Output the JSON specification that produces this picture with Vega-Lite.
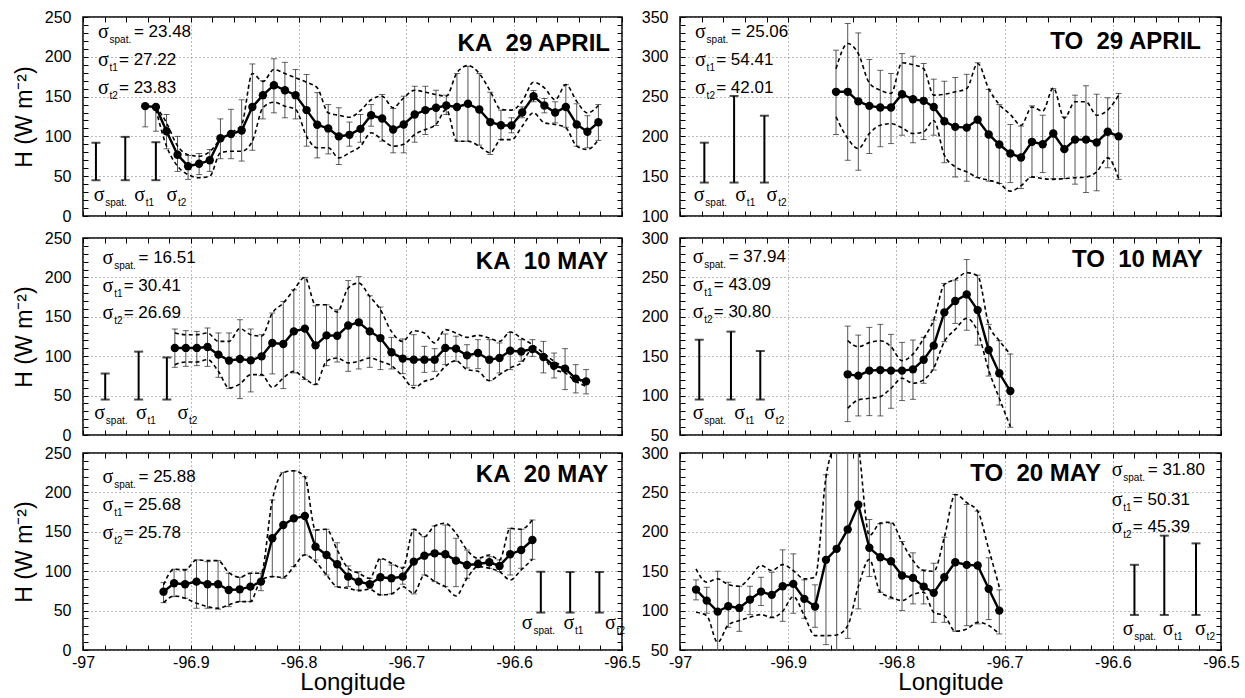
{
"$schema": "https://vega.github.io/schema/vega-lite/v6.json",
"padding": {"left": 12, "top": 8, "right": 5, "bottom": 1},
"background": "white",
"config": {
 "font": "Liberation Sans",
 "view": {"stroke": "#000", "strokeWidth": 1.5},
 "axis": {"domain": false, "tickColor": "#000", "tickSize": -5, "tickWidth": 1, "labelFont": "Liberation Sans", "labelFontSize": 16, "labelColor": "#000", "labelOverlap": false, "labelFlush": false, "gridColor": "#777", "gridDash": [1, 3], "gridWidth": 1, "titleFont": "Liberation Sans", "titleFontSize": 23, "titleFontWeight": "normal", "titleColor": "#000"},
 "text": {"font": "Liberation Sans", "color": "#000"}
},
"datasets": {
 "pts": [
{"p":1,"x":-96.9423,"h":138,"lo":112,"hi":139.6,"ul":null,"ll":null},
{"p":1,"x":-96.9324,"h":137,"lo":106.5,"hi":138,"ul":138,"ll":134},
{"p":1,"x":-96.9225,"h":106.5,"lo":84.4,"hi":127.5,"ul":117,"ll":87.7},
{"p":1,"x":-96.9123,"h":77,"lo":56,"hi":100,"ul":88,"ll":62.6},
{"p":1,"x":-96.9025,"h":62.6,"lo":46,"hi":76,"ul":77,"ll":52},
{"p":1,"x":-96.8923,"h":65.6,"lo":52,"hi":78.5,"ul":75,"ll":48},
{"p":1,"x":-96.8824,"h":70,"lo":56,"hi":83.5,"ul":81,"ll":50},
{"p":1,"x":-96.8725,"h":97.7,"lo":72,"hi":122,"ul":96,"ll":79.4},
{"p":1,"x":-96.8627,"h":103,"lo":72,"hi":134,"ul":104.5,"ll":81.4},
{"p":1,"x":-96.8528,"h":107.4,"lo":69,"hi":146,"ul":115,"ll":81.4},
{"p":1,"x":-96.8429,"h":137,"lo":82.6,"hi":191,"ul":179,"ll":94},
{"p":1,"x":-96.8331,"h":151.8,"lo":122,"hi":170,"ul":169,"ll":136},
{"p":1,"x":-96.8229,"h":164.3,"lo":129.6,"hi":197.5,"ul":184,"ll":143},
{"p":1,"x":-96.8127,"h":158,"lo":123.4,"hi":193,"ul":179,"ll":138},
{"p":1,"x":-96.8028,"h":151.8,"lo":122,"hi":184,"ul":173.6,"ll":134},
{"p":1,"x":-96.7926,"h":133,"lo":87.7,"hi":177.8,"ul":168,"ll":100},
{"p":1,"x":-96.7827,"h":114.6,"lo":73,"hi":155,"ul":161,"ll":85.7},
{"p":1,"x":-96.7725,"h":110,"lo":78,"hi":140,"ul":129.6,"ll":85.7},
{"p":1,"x":-96.7627,"h":100,"lo":64.7,"hi":136,"ul":126.6,"ll":73},
{"p":1,"x":-96.7528,"h":102,"lo":87.7,"hi":118,"ul":124,"ll":79.4},
{"p":1,"x":-96.7426,"h":109.5,"lo":92.7,"hi":127.5,"ul":132.5,"ll":87.7},
{"p":1,"x":-96.7327,"h":126.6,"lo":112.8,"hi":140,"ul":146,"ll":104.5},
{"p":1,"x":-96.7225,"h":122.5,"lo":94,"hi":152.6,"ul":150.5,"ll":96},
{"p":1,"x":-96.7123,"h":108.7,"lo":79.4,"hi":135,"ul":136,"ll":87.7},
{"p":1,"x":-96.7025,"h":115,"lo":79.4,"hi":150.5,"ul":148.5,"ll":90},
{"p":1,"x":-96.6923,"h":127.5,"lo":92.7,"hi":163,"ul":158,"ll":102.4},
{"p":1,"x":-96.6824,"h":133,"lo":102.4,"hi":163,"ul":155.5,"ll":108.7},
{"p":1,"x":-96.6725,"h":136,"lo":113.7,"hi":158,"ul":152.6,"ll":115},
{"p":1,"x":-96.663,"h":138.8,"lo":127.5,"hi":151.8,"ul":150.5,"ll":134},
{"p":1,"x":-96.6531,"h":137,"lo":94,"hi":179,"ul":180,"ll":94},
{"p":1,"x":-96.6429,"h":141,"lo":94,"hi":188,"ul":189,"ll":94},
{"p":1,"x":-96.6324,"h":133.8,"lo":89,"hi":179,"ul":179,"ll":87.7},
{"p":1,"x":-96.6222,"h":118,"lo":77.3,"hi":155.5,"ul":156.8,"ll":79.4},
{"p":1,"x":-96.6123,"h":114,"lo":96,"hi":133,"ul":133.8,"ll":96},
{"p":1,"x":-96.6025,"h":113.7,"lo":104.5,"hi":123.4,"ul":133,"ll":96},
{"p":1,"x":-96.5926,"h":130,"lo":123.4,"hi":137,"ul":144,"ll":112.8},
{"p":1,"x":-96.5821,"h":150.5,"lo":143.5,"hi":157.6,"ul":168,"ll":129.6},
{"p":1,"x":-96.572,"h":138.8,"lo":129.6,"hi":147.6,"ul":161,"ll":117},
{"p":1,"x":-96.562,"h":130,"lo":117,"hi":143.5,"ul":146,"ll":115},
{"p":1,"x":-96.5521,"h":137,"lo":111.5,"hi":165,"ul":165,"ll":110.8},
{"p":1,"x":-96.542,"h":115,"lo":87.7,"hi":141,"ul":144,"ll":87.7},
{"p":1,"x":-96.5321,"h":105.8,"lo":85.7,"hi":126,"ul":129.6,"ll":83.5},
{"p":1,"x":-96.5219,"h":117.8,"lo":95,"hi":140,"ul":138.8,"ll":96},
{"p":2,"x":-96.8558,"h":256,"lo":202.4,"hi":308.3,"ul":285,"ll":224.6},
{"p":2,"x":-96.845,"h":256,"lo":170,"hi":341.8,"ul":316.7,"ll":197.4},
{"p":2,"x":-96.8352,"h":244,"lo":157.5,"hi":330,"ul":304,"ll":184.8},
{"p":2,"x":-96.825,"h":238.4,"lo":178.5,"hi":296.6,"ul":267,"ll":203.6},
{"p":2,"x":-96.8149,"h":236.3,"lo":187,"hi":283,"ul":258,"ll":214},
{"p":2,"x":-96.805,"h":236.3,"lo":191,"hi":279,"ul":254,"ll":216},
{"p":2,"x":-96.7948,"h":253,"lo":201.5,"hi":304,"ul":292.5,"ll":210.8},
{"p":2,"x":-96.7847,"h":246.7,"lo":192,"hi":300.7,"ul":290,"ll":203.6},
{"p":2,"x":-96.7748,"h":244.7,"lo":196,"hi":291.6,"ul":285,"ll":205.8},
{"p":2,"x":-96.7655,"h":237,"lo":201.5,"hi":271.9,"ul":251.8,"ll":220},
{"p":2,"x":-96.7557,"h":219,"lo":167,"hi":269.3,"ul":253,"ll":176.4},
{"p":2,"x":-96.7456,"h":212,"lo":149,"hi":274,"ul":256,"ll":161.8},
{"p":2,"x":-96.735,"h":211,"lo":143.7,"hi":278,"ul":260,"ll":155.5},
{"p":2,"x":-96.7249,"h":221,"lo":148.4,"hi":292.5,"ul":291.6,"ll":148.4},
{"p":2,"x":-96.7147,"h":202.4,"lo":143.7,"hi":259,"ul":260,"ll":145},
{"p":2,"x":-96.7049,"h":189.8,"lo":140.8,"hi":240,"ul":240,"ll":140.8},
{"p":2,"x":-96.6947,"h":178.5,"lo":142,"hi":215,"ul":227.5,"ll":131.2},
{"p":2,"x":-96.6848,"h":173.5,"lo":134.5,"hi":213,"ul":214,"ll":138},
{"p":2,"x":-96.6747,"h":193.2,"lo":148.4,"hi":238.4,"ul":237,"ll":149.2},
{"p":2,"x":-96.6648,"h":190.2,"lo":154.6,"hi":226.6,"ul":231.7,"ll":147},
{"p":2,"x":-96.655,"h":203.6,"lo":147,"hi":260,"ul":261,"ll":146},
{"p":2,"x":-96.6448,"h":184,"lo":147,"hi":224.6,"ul":223,"ll":147},
{"p":2,"x":-96.6349,"h":196,"lo":140,"hi":251.8,"ul":243.5,"ll":148},
{"p":2,"x":-96.6248,"h":196,"lo":129.5,"hi":263.6,"ul":243.5,"ll":149},
{"p":2,"x":-96.6149,"h":192.3,"lo":131.7,"hi":253,"ul":226.6,"ll":155.5},
{"p":2,"x":-96.6047,"h":205.8,"lo":160.6,"hi":248.5,"ul":233,"ll":173},
{"p":2,"x":-96.5946,"h":200,"lo":146,"hi":254,"ul":251.8,"ll":147},
{"p":3,"x":-96.9148,"h":110.5,"lo":85.9,"hi":134.5,"ul":129.5,"ll":89.3},
{"p":3,"x":-96.9046,"h":110.5,"lo":87.1,"hi":132.4,"ul":127.3,"ll":92.7},
{"p":3,"x":-96.8944,"h":110.5,"lo":88,"hi":131.5,"ul":127.3,"ll":92.7},
{"p":3,"x":-96.8845,"h":111.7,"lo":87.1,"hi":135.8,"ul":129.5,"ll":95.6},
{"p":3,"x":-96.8744,"h":102,"lo":73.2,"hi":129.5,"ul":118.8,"ll":80.8},
{"p":3,"x":-96.8645,"h":94.4,"lo":58.9,"hi":129.5,"ul":118.8,"ll":59.8},
{"p":3,"x":-96.8544,"h":96.5,"lo":46.2,"hi":146.3,"ul":135,"ll":64.8},
{"p":3,"x":-96.8444,"h":94.7,"lo":54.7,"hi":134.5,"ul":127.3,"ll":76.6},
{"p":3,"x":-96.8343,"h":99.8,"lo":75.3,"hi":127.3,"ul":125.4,"ll":76.6},
{"p":3,"x":-96.8244,"h":116.8,"lo":77.5,"hi":154.8,"ul":154.8,"ll":60.5},
{"p":3,"x":-96.8142,"h":115.5,"lo":58.9,"hi":169.5,"ul":167.5,"ll":72.4},
{"p":3,"x":-96.8044,"h":131.5,"lo":78.8,"hi":184.3,"ul":184.3,"ll":80.8},
{"p":3,"x":-96.7942,"h":135,"lo":70.3,"hi":200,"ul":200,"ll":71.5},
{"p":3,"x":-96.7843,"h":113.8,"lo":64,"hi":164,"ul":165.3,"ll":64},
{"p":3,"x":-96.7741,"h":126.4,"lo":88,"hi":165.3,"ul":165.3,"ll":93.5},
{"p":3,"x":-96.7642,"h":126,"lo":92.7,"hi":159,"ul":156,"ll":97.8},
{"p":3,"x":-96.754,"h":139,"lo":80.8,"hi":196,"ul":186.5,"ll":91.5},
{"p":3,"x":-96.7442,"h":143,"lo":83.8,"hi":201,"ul":192.8,"ll":93.5},
{"p":3,"x":-96.734,"h":131.5,"lo":85.9,"hi":176.7,"ul":175.8,"ll":97.8},
{"p":3,"x":-96.7241,"h":123,"lo":83,"hi":162.4,"ul":159,"ll":93.5},
{"p":3,"x":-96.7139,"h":105,"lo":83.8,"hi":123.9,"ul":131.5,"ll":88},
{"p":3,"x":-96.7034,"h":97,"lo":77.9,"hi":121.9,"ul":118.8,"ll":74.5},
{"p":3,"x":-96.6932,"h":95.6,"lo":63,"hi":127.3,"ul":132.4,"ll":59.8},
{"p":3,"x":-96.6833,"h":95.6,"lo":79.5,"hi":112.5,"ul":129.5,"ll":68.1},
{"p":3,"x":-96.6738,"h":95.6,"lo":80.8,"hi":109.6,"ul":116.8,"ll":72.4},
{"p":3,"x":-96.6639,"h":110.5,"lo":89.3,"hi":128.2,"ul":133.7,"ll":87.1},
{"p":3,"x":-96.654,"h":109.6,"lo":93.5,"hi":125.4,"ul":129.5,"ll":94.4},
{"p":3,"x":-96.6438,"h":101,"lo":85.1,"hi":114.6,"ul":123.9,"ll":83},
{"p":3,"x":-96.6336,"h":104,"lo":84.2,"hi":121,"ul":126.4,"ll":80.8},
{"p":3,"x":-96.6231,"h":95.6,"lo":69,"hi":121,"ul":123.1,"ll":69},
{"p":3,"x":-96.6136,"h":97.8,"lo":78.8,"hi":116.8,"ul":118.8,"ll":76.6},
{"p":3,"x":-96.6037,"h":107,"lo":83,"hi":130.2,"ul":130.7,"ll":85.1},
{"p":3,"x":-96.5935,"h":106,"lo":93.5,"hi":121,"ul":123.1,"ll":91.5},
{"p":3,"x":-96.5831,"h":109,"lo":99.8,"hi":121,"ul":114.6,"ll":108.3},
{"p":3,"x":-96.5729,"h":99,"lo":78.8,"hi":118.8,"ul":104,"ll":97.8},
{"p":3,"x":-96.563,"h":88,"lo":72.4,"hi":104,"ul":93.5,"ll":83},
{"p":3,"x":-96.5528,"h":84.2,"lo":57.6,"hi":109.6,"ul":85.1,"ll":78.8},
{"p":3,"x":-96.5429,"h":71.5,"lo":53.4,"hi":89.3,"ul":72.4,"ll":68.1},
{"p":3,"x":-96.5333,"h":68,"lo":52.2,"hi":83,"ul":66,"ll":61.8},
{"p":4,"x":-96.845,"h":127,"lo":67,"hi":188.2,"ul":169.7,"ll":84},
{"p":4,"x":-96.8352,"h":125.3,"lo":74.2,"hi":176.8,"ul":162,"ll":94.4},
{"p":4,"x":-96.825,"h":131.7,"lo":74.6,"hi":186.6,"ul":167.2,"ll":96.6},
{"p":4,"x":-96.8149,"h":132.4,"lo":74.2,"hi":190.4,"ul":169.7,"ll":98.7},
{"p":4,"x":-96.805,"h":131.7,"lo":83.9,"hi":177.7,"ul":162,"ll":109.3},
{"p":4,"x":-96.7948,"h":131.7,"lo":93.7,"hi":167.5,"ul":144.4,"ll":122},
{"p":4,"x":-96.7847,"h":133.3,"lo":95.3,"hi":170.5,"ul":152.7,"ll":115.6},
{"p":4,"x":-96.7748,"h":145.5,"lo":115.6,"hi":174,"ul":172.6,"ll":120},
{"p":4,"x":-96.7655,"h":163.4,"lo":132.4,"hi":195.8,"ul":196,"ll":135},
{"p":4,"x":-96.7557,"h":205.6,"lo":168.4,"hi":242.3,"ul":241,"ll":168.4},
{"p":4,"x":-96.7456,"h":220,"lo":191.6,"hi":246.5,"ul":247.4,"ll":184},
{"p":4,"x":-96.735,"h":228.4,"lo":183,"hi":272.7,"ul":256,"ll":198},
{"p":4,"x":-96.7249,"h":208.5,"lo":164,"hi":252.9,"ul":252,"ll":181},
{"p":4,"x":-96.7147,"h":157.8,"lo":124.8,"hi":190.4,"ul":190.4,"ll":132.4},
{"p":4,"x":-96.7049,"h":128.3,"lo":88,"hi":169.7,"ul":169.7,"ll":96.6},
{"p":4,"x":-96.6947,"h":105.8,"lo":59.8,"hi":152.7,"ul":152.7,"ll":60.7},
{"p":5,"x":-96.9253,"h":74,"lo":60.1,"hi":85.5,"ul":82.6,"ll":60.1},
{"p":5,"x":-96.9155,"h":84.7,"lo":67.7,"hi":102.5,"ul":102.5,"ll":68.6},
{"p":5,"x":-96.9053,"h":83.5,"lo":65.7,"hi":102.5,"ul":101.6,"ll":65.7},
{"p":5,"x":-96.8947,"h":86.8,"lo":53,"hi":114.3,"ul":114.3,"ll":59.4},
{"p":5,"x":-96.8845,"h":83.5,"lo":53,"hi":112.1,"ul":113.4,"ll":55},
{"p":5,"x":-96.8747,"h":83.5,"lo":51.8,"hi":113.4,"ul":113.4,"ll":53},
{"p":5,"x":-96.8648,"h":76.2,"lo":55,"hi":97.4,"ul":98.2,"ll":57.2},
{"p":5,"x":-96.8546,"h":77,"lo":61.4,"hi":92.3,"ul":92.3,"ll":61.4},
{"p":5,"x":-96.8447,"h":80.4,"lo":61.4,"hi":97.4,"ul":97.4,"ll":61.4},
{"p":5,"x":-96.8349,"h":86.8,"lo":75.3,"hi":97.4,"ul":97.4,"ll":88.9},
{"p":5,"x":-96.8244,"h":141.8,"lo":93.1,"hi":190.3,"ul":190.3,"ll":93.1},
{"p":5,"x":-96.8142,"h":158.6,"lo":91,"hi":225.4,"ul":225.4,"ll":92.3},
{"p":5,"x":-96.8044,"h":167.1,"lo":105.8,"hi":227.4,"ul":227.4,"ll":105.8},
{"p":5,"x":-96.7942,"h":170,"lo":120.6,"hi":219.8,"ul":219.8,"ll":120.6},
{"p":5,"x":-96.7843,"h":131,"lo":114.3,"hi":152.3,"ul":152.3,"ll":112.1},
{"p":5,"x":-96.7741,"h":120.6,"lo":95.2,"hi":153.2,"ul":153.2,"ll":95.2},
{"p":5,"x":-96.7642,"h":108.8,"lo":80.4,"hi":136.2,"ul":126.9,"ll":80.4},
{"p":5,"x":-96.754,"h":93.1,"lo":80.4,"hi":106.7,"ul":103.7,"ll":78.4},
{"p":5,"x":-96.7442,"h":86.8,"lo":76.2,"hi":99.4,"ul":97.4,"ll":75.3},
{"p":5,"x":-96.734,"h":83.5,"lo":78.4,"hi":91,"ul":91,"ll":77.1},
{"p":5,"x":-96.7241,"h":92.3,"lo":69.9,"hi":115.1,"ul":116.4,"ll":69.9},
{"p":5,"x":-96.7139,"h":91,"lo":71.2,"hi":107.9,"ul":110.1,"ll":71.2},
{"p":5,"x":-96.7034,"h":93.1,"lo":83.5,"hi":105,"ul":103.7,"ll":80.4},
{"p":5,"x":-96.6932,"h":112.1,"lo":71.2,"hi":153.2,"ul":153.2,"ll":72},
{"p":5,"x":-96.6833,"h":119.7,"lo":95.2,"hi":143.8,"ul":143.8,"ll":95.2},
{"p":5,"x":-96.6738,"h":122.7,"lo":86.8,"hi":157.4,"ul":157.4,"ll":86.8},
{"p":5,"x":-96.6639,"h":121.5,"lo":80.4,"hi":158.6,"ul":160.8,"ll":80.4},
{"p":5,"x":-96.654,"h":113.4,"lo":80.4,"hi":141.8,"ul":148.1,"ll":68.6},
{"p":5,"x":-96.6438,"h":107.9,"lo":91,"hi":126.9,"ul":126.9,"ll":91},
{"p":5,"x":-96.6336,"h":109.2,"lo":105.8,"hi":114.3,"ul":116.4,"ll":105.8},
{"p":5,"x":-96.6231,"h":111.3,"lo":103.7,"hi":118.4,"ul":120.6,"ll":103.7},
{"p":5,"x":-96.6136,"h":106.7,"lo":99.4,"hi":114.3,"ul":114.3,"ll":99.4},
{"p":5,"x":-96.6037,"h":121.5,"lo":95.2,"hi":154.4,"ul":154.4,"ll":88.9},
{"p":5,"x":-96.5935,"h":126.9,"lo":103.7,"hi":153.2,"ul":153.2,"ll":101.6},
{"p":5,"x":-96.5831,"h":139.6,"lo":115.1,"hi":165,"ul":165,"ll":115.1},
{"p":6,"x":-96.9852,"h":126.7,"lo":113.6,"hi":139,"ul":153,"ll":97.8},
{"p":6,"x":-96.9753,"h":112.7,"lo":96.6,"hi":129.6,"ul":136,"ll":93.6},
{"p":6,"x":-96.9652,"h":98.7,"lo":49.2,"hi":150,"ul":140.3,"ll":59.7},
{"p":6,"x":-96.9554,"h":105.5,"lo":78.8,"hi":136,"ul":133,"ll":81.8},
{"p":6,"x":-96.9452,"h":103.4,"lo":73.7,"hi":130.9,"ul":130.9,"ll":87.3},
{"p":6,"x":-96.9353,"h":114,"lo":94.9,"hi":130.9,"ul":142.3,"ll":91.5},
{"p":6,"x":-96.9251,"h":124.1,"lo":106.4,"hi":142.3,"ul":157.2,"ll":94.9},
{"p":6,"x":-96.9152,"h":120,"lo":90.7,"hi":148.7,"ul":150.8,"ll":91.5},
{"p":6,"x":-96.9051,"h":130.9,"lo":86.4,"hi":177.1,"ul":158.4,"ll":99.1},
{"p":6,"x":-96.8953,"h":133.9,"lo":96.6,"hi":172,"ul":150.8,"ll":117.8},
{"p":6,"x":-96.8851,"h":114.9,"lo":90.2,"hi":139,"ul":140.3,"ll":93.6},
{"p":6,"x":-96.8752,"h":105.1,"lo":78.8,"hi":132.7,"ul":142.3,"ll":68.2},
{"p":6,"x":-96.8651,"h":164.4,"lo":56.8,"hi":272.4,"ul":269.4,"ll":68.2},
{"p":6,"x":-96.8552,"h":178.4,"lo":30,"hi":330,"ul":320,"ll":69.1},
{"p":6,"x":-96.845,"h":203,"lo":64.8,"hi":340,"ul":360,"ll":80.9},
{"p":6,"x":-96.8352,"h":234.3,"lo":102.2,"hi":370,"ul":310,"ll":130.5},
{"p":6,"x":-96.825,"h":179.7,"lo":143.2,"hi":215.6,"ul":195.3,"ll":165},
{"p":6,"x":-96.8149,"h":167.7,"lo":123.3,"hi":210.2,"ul":211,"ll":123.3},
{"p":6,"x":-96.805,"h":162.6,"lo":114.9,"hi":211,"ul":212.2,"ll":116.9},
{"p":6,"x":-96.7948,"h":144.5,"lo":100,"hi":187.7,"ul":186.8,"ll":112.7},
{"p":6,"x":-96.7847,"h":141.5,"lo":108.5,"hi":173.3,"ul":163.5,"ll":120.3},
{"p":6,"x":-96.7748,"h":130.5,"lo":108.5,"hi":151.7,"ul":150.8,"ll":123.3},
{"p":6,"x":-96.7655,"h":122.5,"lo":85.1,"hi":160.1,"ul":150,"ll":97.8},
{"p":6,"x":-96.7557,"h":142.3,"lo":85.1,"hi":193.1,"ul":193.1,"ll":93.6},
{"p":6,"x":-96.7456,"h":161.4,"lo":73.7,"hi":247.4,"ul":247.4,"ll":73.7},
{"p":6,"x":-96.735,"h":158,"lo":80.9,"hi":234.7,"ul":237,"ll":76.7},
{"p":6,"x":-96.7249,"h":157.2,"lo":83.1,"hi":226.2,"ul":226.2,"ll":85.1},
{"p":6,"x":-96.7147,"h":127.6,"lo":88.6,"hi":167,"ul":178,"ll":81},
{"p":6,"x":-96.7049,"h":100,"lo":70.4,"hi":126.3,"ul":130,"ll":70.4}
 ],
 "sig": [
{"p":1,"x":-96.988,"lo":45,"hi":92},{"p":1,"x":-96.9608,"lo":45,"hi":99.4},{"p":1,"x":-96.9324,"lo":45,"hi":92.7},
{"p":2,"x":-96.9775,"lo":142,"hi":192.1},{"p":2,"x":-96.95,"lo":142,"hi":250.8},{"p":2,"x":-96.922,"lo":142,"hi":226},
{"p":3,"x":-96.9794,"lo":45,"hi":78},{"p":3,"x":-96.9484,"lo":45,"hi":105.8},{"p":3,"x":-96.9222,"lo":45,"hi":98.4},
{"p":4,"x":-96.9822,"lo":95,"hi":170.9},{"p":4,"x":-96.9529,"lo":95,"hi":181.2},{"p":4,"x":-96.9258,"lo":95,"hi":156.6},
{"p":5,"x":-96.5753,"lo":47.5,"hi":99.3},{"p":5,"x":-96.5481,"lo":47.5,"hi":98.9},{"p":5,"x":-96.521,"lo":47.5,"hi":99},
{"p":6,"x":-96.58,"lo":94.5,"hi":158.1},{"p":6,"x":-96.5524,"lo":94.5,"hi":195.1},{"p":6,"x":-96.5231,"lo":94.5,"hi":185.3}
 ],
 "ann": [
{"p":1,"k":"sym","x":-96.9861,"y":231,"t":"σ"},{"p":1,"k":"sub","x":-96.9754,"y":231,"t":"spat."},{"p":1,"k":"val","x":-96.9528,"y":231,"t":"= 23.48"},
{"p":1,"k":"sym","x":-96.9861,"y":196.6,"t":"σ"},{"p":1,"k":"sub","x":-96.9754,"y":196.6,"t":"t1"},{"p":1,"k":"val","x":-96.9666,"y":196.6,"t":"= 27.22"},
{"p":1,"k":"sym","x":-96.9861,"y":161,"t":"σ"},{"p":1,"k":"sub","x":-96.9754,"y":161,"t":"t2"},{"p":1,"k":"val","x":-96.9666,"y":161,"t":"= 23.83"},
{"p":1,"k":"sym","x":-96.9901,"y":27,"t":"σ"},{"p":1,"k":"sub","x":-96.9794,"y":27,"t":"spat."},
{"p":1,"k":"sym","x":-96.9525,"y":27,"t":"σ"},{"p":1,"k":"sub","x":-96.9418,"y":27,"t":"t1"},
{"p":1,"k":"sym","x":-96.9225,"y":27,"t":"σ"},{"p":1,"k":"sub","x":-96.9118,"y":27,"t":"t2"},
{"p":1,"k":"title","x":-96.5111,"y":215.5,"t":"KA\u00a0 29 APRIL"},
{"p":2,"k":"sym","x":-96.9861,"y":331.4,"t":"σ"},{"p":2,"k":"sub","x":-96.9754,"y":331.4,"t":"spat."},{"p":2,"k":"val","x":-96.9528,"y":331.4,"t":"= 25.06"},
{"p":2,"k":"sym","x":-96.9861,"y":295.7,"t":"σ"},{"p":2,"k":"sub","x":-96.9754,"y":295.7,"t":"t1"},{"p":2,"k":"val","x":-96.9666,"y":295.7,"t":"= 54.41"},
{"p":2,"k":"sym","x":-96.9861,"y":261,"t":"σ"},{"p":2,"k":"sub","x":-96.9754,"y":261,"t":"t2"},{"p":2,"k":"val","x":-96.9666,"y":261,"t":"= 42.01"},
{"p":2,"k":"sym","x":-96.9873,"y":126,"t":"σ"},{"p":2,"k":"sub","x":-96.9766,"y":126,"t":"spat."},
{"p":2,"k":"sym","x":-96.9489,"y":126,"t":"σ"},{"p":2,"k":"sub","x":-96.9382,"y":126,"t":"t1"},
{"p":2,"k":"sym","x":-96.92,"y":126,"t":"σ"},{"p":2,"k":"sub","x":-96.9093,"y":126,"t":"t2"},
{"p":2,"k":"title","x":-96.5185,"y":318.8,"t":"TO\u00a0 29 APRIL"},
{"p":3,"k":"sym","x":-96.9818,"y":224.5,"t":"σ"},{"p":3,"k":"sub","x":-96.9711,"y":224.5,"t":"spat."},{"p":3,"k":"val","x":-96.9485,"y":224.5,"t":"= 16.51"},
{"p":3,"k":"sym","x":-96.9818,"y":188.5,"t":"σ"},{"p":3,"k":"sub","x":-96.9711,"y":188.5,"t":"t1"},{"p":3,"k":"val","x":-96.9623,"y":188.5,"t":"= 30.41"},
{"p":3,"k":"sym","x":-96.9818,"y":154.8,"t":"σ"},{"p":3,"k":"sub","x":-96.9711,"y":154.8,"t":"t2"},{"p":3,"k":"val","x":-96.9623,"y":154.8,"t":"= 26.69"},
{"p":3,"k":"sym","x":-96.9895,"y":28,"t":"σ"},{"p":3,"k":"sub","x":-96.9788,"y":28,"t":"spat."},
{"p":3,"k":"sym","x":-96.9509,"y":28,"t":"σ"},{"p":3,"k":"sub","x":-96.9402,"y":28,"t":"t1"},
{"p":3,"k":"sym","x":-96.9123,"y":28,"t":"σ"},{"p":3,"k":"sub","x":-96.9016,"y":28,"t":"t2"},
{"p":3,"k":"title","x":-96.5127,"y":220,"t":"KA\u00a0 10 MAY"},
{"p":4,"k":"sym","x":-96.9883,"y":276.2,"t":"σ"},{"p":4,"k":"sub","x":-96.9776,"y":276.2,"t":"spat."},{"p":4,"k":"val","x":-96.955,"y":276.2,"t":"= 37.94"},
{"p":4,"k":"sym","x":-96.9883,"y":240.2,"t":"σ"},{"p":4,"k":"sub","x":-96.9776,"y":240.2,"t":"t1"},{"p":4,"k":"val","x":-96.9688,"y":240.2,"t":"= 43.09"},
{"p":4,"k":"sym","x":-96.9883,"y":206.5,"t":"σ"},{"p":4,"k":"sub","x":-96.9776,"y":206.5,"t":"t2"},{"p":4,"k":"val","x":-96.9688,"y":206.5,"t":"= 30.80"},
{"p":4,"k":"sym","x":-96.9883,"y":77.6,"t":"σ"},{"p":4,"k":"sub","x":-96.9776,"y":77.6,"t":"spat."},
{"p":4,"k":"sym","x":-96.9498,"y":77.6,"t":"σ"},{"p":4,"k":"sub","x":-96.9391,"y":77.6,"t":"t1"},
{"p":4,"k":"sym","x":-96.9221,"y":77.6,"t":"σ"},{"p":4,"k":"sub","x":-96.9114,"y":77.6,"t":"t2"},
{"p":4,"k":"title","x":-96.5169,"y":271.9,"t":"TO\u00a0 10 MAY"},
{"p":5,"k":"sym","x":-96.9818,"y":219.8,"t":"σ"},{"p":5,"k":"sub","x":-96.9711,"y":219.8,"t":"spat."},{"p":5,"k":"val","x":-96.9485,"y":219.8,"t":"= 25.88"},
{"p":5,"k":"sym","x":-96.9818,"y":184,"t":"σ"},{"p":5,"k":"sub","x":-96.9711,"y":184,"t":"t1"},{"p":5,"k":"val","x":-96.9623,"y":184,"t":"= 25.68"},
{"p":5,"k":"sym","x":-96.9818,"y":148.9,"t":"σ"},{"p":5,"k":"sub","x":-96.9711,"y":148.9,"t":"t2"},{"p":5,"k":"val","x":-96.9623,"y":148.9,"t":"= 25.78"},
{"p":5,"k":"sym","x":-96.5929,"y":34,"t":"σ"},{"p":5,"k":"sub","x":-96.5822,"y":34,"t":"spat."},
{"p":5,"k":"sym","x":-96.5543,"y":34,"t":"σ"},{"p":5,"k":"sub","x":-96.5436,"y":34,"t":"t1"},
{"p":5,"k":"sym","x":-96.5157,"y":34,"t":"σ"},{"p":5,"k":"sub","x":-96.505,"y":34,"t":"t2"},
{"p":5,"k":"title","x":-96.5127,"y":222,"t":"KA\u00a0 20 MAY"},
{"p":6,"k":"sym","x":-96.601,"y":277.9,"t":"σ"},{"p":6,"k":"sub","x":-96.5903,"y":277.9,"t":"spat."},{"p":6,"k":"val","x":-96.5677,"y":277.9,"t":"= 31.80"},
{"p":6,"k":"sym","x":-96.601,"y":240.7,"t":"σ"},{"p":6,"k":"sub","x":-96.5903,"y":240.7,"t":"t1"},{"p":6,"k":"val","x":-96.5815,"y":240.7,"t":"= 50.31"},
{"p":6,"k":"sym","x":-96.601,"y":206.7,"t":"σ"},{"p":6,"k":"sub","x":-96.5903,"y":206.7,"t":"t2"},{"p":6,"k":"val","x":-96.5815,"y":206.7,"t":"= 45.39"},
{"p":6,"k":"sym","x":-96.5909,"y":76.7,"t":"σ"},{"p":6,"k":"sub","x":-96.5802,"y":76.7,"t":"spat."},
{"p":6,"k":"sym","x":-96.5539,"y":76.7,"t":"σ"},{"p":6,"k":"sub","x":-96.5432,"y":76.7,"t":"t1"},
{"p":6,"k":"sym","x":-96.524,"y":76.7,"t":"σ"},{"p":6,"k":"sub","x":-96.5133,"y":76.7,"t":"t2"},
{"p":6,"k":"title","x":-96.6109,"y":273.8,"t":"TO\u00a0 20 MAY"}
 ]
},
"spacing": 4,
"vconcat": [
{"hconcat": [
 {"width": 539, "height": 199, "resolve": {"axis": {"x": "independent", "y": "independent"}}, "layer": [
  {"data":{"name":"pts"},"transform":[{"filter":"datum.p==1"}],"mark":{"type":"rule","color":"#555","strokeWidth":1,"clip":true},
   "encoding":{"x":{"field":"x","type":"quantitative","scale":{"domain":[-97,-96.5],"nice":false,"zero":false},"axis":{"orient":"bottom","values":[-97,-96.98,-96.96,-96.94,-96.92,-96.9,-96.88,-96.86,-96.84,-96.82,-96.8,-96.78,-96.76,-96.74,-96.72,-96.7,-96.68,-96.66,-96.64,-96.62,-96.6,-96.58,-96.56,-96.54,-96.52,-96.5],"grid":true,"gridOpacity":{"condition":{"test":"abs(datum.value*10-round(datum.value*10))<0.001","value":1},"value":0},"labels":false,"title":null}},
   "y":{"field":"lo","type":"quantitative","scale":{"domain":[0,250],"nice":false,"zero":false},"axis":{"orient":"left","values":[0,10,20,30,40,50,60,70,80,90,100,110,120,130,140,150,160,170,180,190,200,210,220,230,240,250],"grid":true,"gridOpacity":{"condition":{"test":"datum.value % 50 == 0","value":1},"value":0},"labelExpr":"datum.value % 50 == 0 ? datum.label : ''","labelPadding":17,"title":"H (W m⁻²)","titlePadding":8}},
   "y2":{"field":"hi"}}},
  {"data":{"name":"pts"},"transform":[{"filter":"datum.p==1"},{"fold":["lo","hi"],"as":["k","v"]}],"mark":{"type":"tick","orient":"horizontal","size":6,"thickness":1,"color":"#222","clip":true},"encoding":{"x":{"field":"x","type":"quantitative","axis":null},"y":{"field":"v","type":"quantitative","axis":null}}},
  {"data":{"name":"pts"},"transform":[{"filter":"datum.p==1"}],"mark":{"type":"line","strokeDash":[4,3],"strokeWidth":1.6,"color":"#000","interpolate":"monotone","clip":true},"encoding":{"x":{"field":"x","type":"quantitative","axis":null},"y":{"field":"ul","type":"quantitative","axis":null}}},
  {"data":{"name":"pts"},"transform":[{"filter":"datum.p==1"}],"mark":{"type":"line","strokeDash":[4,3],"strokeWidth":1.6,"color":"#000","interpolate":"monotone","clip":true},"encoding":{"x":{"field":"x","type":"quantitative","axis":null},"y":{"field":"ll","type":"quantitative","axis":null}}},
  {"data":{"name":"pts"},"transform":[{"filter":"datum.p==1"}],"mark":{"type":"line","strokeWidth":2.4,"color":"#000","clip":true},"encoding":{"x":{"field":"x","type":"quantitative","axis":null},"y":{"field":"h","type":"quantitative","axis":null}}},
  {"data":{"name":"pts"},"transform":[{"filter":"datum.p==1"}],"mark":{"type":"point","filled":true,"size":70,"color":"#000","opacity":1,"clip":true},"encoding":{"x":{"field":"x","type":"quantitative","axis":{"orient":"top","values":[-97,-96.98,-96.96,-96.94,-96.92,-96.9,-96.88,-96.86,-96.84,-96.82,-96.8,-96.78,-96.76,-96.74,-96.72,-96.7,-96.68,-96.66,-96.64,-96.62,-96.6,-96.58,-96.56,-96.54,-96.52,-96.5],"labels":false,"grid":false,"title":null}},"y":{"field":"h","type":"quantitative","axis":{"orient":"right","values":[0,10,20,30,40,50,60,70,80,90,100,110,120,130,140,150,160,170,180,190,200,210,220,230,240,250],"labels":false,"grid":false,"title":null}}}},
  {"data":{"name":"sig"},"transform":[{"filter":"datum.p==1"}],"mark":{"type":"rule","color":"#000","strokeWidth":2},"encoding":{"x":{"field":"x","type":"quantitative","axis":null},"y":{"field":"lo","type":"quantitative","axis":null},"y2":{"field":"hi"}}},
  {"data":{"name":"sig"},"transform":[{"filter":"datum.p==1"},{"fold":["lo","hi"],"as":["k","v"]}],"mark":{"type":"tick","orient":"horizontal","size":9,"thickness":2,"color":"#000"},"encoding":{"x":{"field":"x","type":"quantitative","axis":null},"y":{"field":"v","type":"quantitative","axis":null}}},
  {"data":{"name":"ann"},"transform":[{"filter":"datum.p==1 && datum.k=='sym'"}],"mark":{"type":"text","align":"left","baseline":"middle","fontSize":20,"font":"Liberation Serif"},"encoding":{"x":{"field":"x","type":"quantitative","axis":null},"y":{"field":"y","type":"quantitative","axis":null},"text":{"field":"t"}}},
  {"data":{"name":"ann"},"transform":[{"filter":"datum.p==1 && datum.k=='sub'"}],"mark":{"type":"text","align":"left","baseline":"middle","fontSize":10,"dy":8},"encoding":{"x":{"field":"x","type":"quantitative","axis":null},"y":{"field":"y","type":"quantitative","axis":null},"text":{"field":"t"}}},
  {"data":{"name":"ann"},"transform":[{"filter":"datum.p==1 && datum.k=='val'"}],"mark":{"type":"text","align":"left","baseline":"middle","fontSize":17},"encoding":{"x":{"field":"x","type":"quantitative","axis":null},"y":{"field":"y","type":"quantitative","axis":null},"text":{"field":"t"}}},
  {"data":{"name":"ann"},"transform":[{"filter":"datum.p==1 && datum.k=='title'"}],"mark":{"type":"text","align":"right","baseline":"middle","fontSize":24,"fontWeight":"bold"},"encoding":{"x":{"field":"x","type":"quantitative","axis":null},"y":{"field":"y","type":"quantitative","axis":null},"text":{"field":"t"}}}
 ]},
 {"width": 541, "height": 199, "resolve": {"axis": {"x": "independent", "y": "independent"}}, "layer": [
  {"data":{"name":"pts"},"transform":[{"filter":"datum.p==2"}],"mark":{"type":"rule","color":"#555","strokeWidth":1,"clip":true},
   "encoding":{"x":{"field":"x","type":"quantitative","scale":{"domain":[-97,-96.5],"nice":false,"zero":false},"axis":{"orient":"bottom","values":[-97,-96.98,-96.96,-96.94,-96.92,-96.9,-96.88,-96.86,-96.84,-96.82,-96.8,-96.78,-96.76,-96.74,-96.72,-96.7,-96.68,-96.66,-96.64,-96.62,-96.6,-96.58,-96.56,-96.54,-96.52,-96.5],"grid":true,"gridOpacity":{"condition":{"test":"abs(datum.value*10-round(datum.value*10))<0.001","value":1},"value":0},"labels":false,"title":null}},
   "y":{"field":"lo","type":"quantitative","scale":{"domain":[100,350],"nice":false,"zero":false},"axis":{"orient":"left","values":[100,110,120,130,140,150,160,170,180,190,200,210,220,230,240,250,260,270,280,290,300,310,320,330,340,350],"grid":true,"gridOpacity":{"condition":{"test":"datum.value % 50 == 0","value":1},"value":0},"labelExpr":"datum.value % 50 == 0 ? datum.label : ''","labelPadding":17,"title":null}},
   "y2":{"field":"hi"}}},
  {"data":{"name":"pts"},"transform":[{"filter":"datum.p==2"},{"fold":["lo","hi"],"as":["k","v"]}],"mark":{"type":"tick","orient":"horizontal","size":6,"thickness":1,"color":"#222","clip":true},"encoding":{"x":{"field":"x","type":"quantitative","axis":null},"y":{"field":"v","type":"quantitative","axis":null}}},
  {"data":{"name":"pts"},"transform":[{"filter":"datum.p==2"}],"mark":{"type":"line","strokeDash":[4,3],"strokeWidth":1.6,"color":"#000","interpolate":"monotone","clip":true},"encoding":{"x":{"field":"x","type":"quantitative","axis":null},"y":{"field":"ul","type":"quantitative","axis":null}}},
  {"data":{"name":"pts"},"transform":[{"filter":"datum.p==2"}],"mark":{"type":"line","strokeDash":[4,3],"strokeWidth":1.6,"color":"#000","interpolate":"monotone","clip":true},"encoding":{"x":{"field":"x","type":"quantitative","axis":null},"y":{"field":"ll","type":"quantitative","axis":null}}},
  {"data":{"name":"pts"},"transform":[{"filter":"datum.p==2"}],"mark":{"type":"line","strokeWidth":2.4,"color":"#000","clip":true},"encoding":{"x":{"field":"x","type":"quantitative","axis":null},"y":{"field":"h","type":"quantitative","axis":null}}},
  {"data":{"name":"pts"},"transform":[{"filter":"datum.p==2"}],"mark":{"type":"point","filled":true,"size":70,"color":"#000","opacity":1,"clip":true},"encoding":{"x":{"field":"x","type":"quantitative","axis":{"orient":"top","values":[-97,-96.98,-96.96,-96.94,-96.92,-96.9,-96.88,-96.86,-96.84,-96.82,-96.8,-96.78,-96.76,-96.74,-96.72,-96.7,-96.68,-96.66,-96.64,-96.62,-96.6,-96.58,-96.56,-96.54,-96.52,-96.5],"labels":false,"grid":false,"title":null}},"y":{"field":"h","type":"quantitative","axis":{"orient":"right","values":[100,110,120,130,140,150,160,170,180,190,200,210,220,230,240,250,260,270,280,290,300,310,320,330,340,350],"labels":false,"grid":false,"title":null}}}},
  {"data":{"name":"sig"},"transform":[{"filter":"datum.p==2"}],"mark":{"type":"rule","color":"#000","strokeWidth":2},"encoding":{"x":{"field":"x","type":"quantitative","axis":null},"y":{"field":"lo","type":"quantitative","axis":null},"y2":{"field":"hi"}}},
  {"data":{"name":"sig"},"transform":[{"filter":"datum.p==2"},{"fold":["lo","hi"],"as":["k","v"]}],"mark":{"type":"tick","orient":"horizontal","size":9,"thickness":2,"color":"#000"},"encoding":{"x":{"field":"x","type":"quantitative","axis":null},"y":{"field":"v","type":"quantitative","axis":null}}},
  {"data":{"name":"ann"},"transform":[{"filter":"datum.p==2 && datum.k=='sym'"}],"mark":{"type":"text","align":"left","baseline":"middle","fontSize":20,"font":"Liberation Serif"},"encoding":{"x":{"field":"x","type":"quantitative","axis":null},"y":{"field":"y","type":"quantitative","axis":null},"text":{"field":"t"}}},
  {"data":{"name":"ann"},"transform":[{"filter":"datum.p==2 && datum.k=='sub'"}],"mark":{"type":"text","align":"left","baseline":"middle","fontSize":10,"dy":8},"encoding":{"x":{"field":"x","type":"quantitative","axis":null},"y":{"field":"y","type":"quantitative","axis":null},"text":{"field":"t"}}},
  {"data":{"name":"ann"},"transform":[{"filter":"datum.p==2 && datum.k=='val'"}],"mark":{"type":"text","align":"left","baseline":"middle","fontSize":17},"encoding":{"x":{"field":"x","type":"quantitative","axis":null},"y":{"field":"y","type":"quantitative","axis":null},"text":{"field":"t"}}},
  {"data":{"name":"ann"},"transform":[{"filter":"datum.p==2 && datum.k=='title'"}],"mark":{"type":"text","align":"right","baseline":"middle","fontSize":24,"fontWeight":"bold"},"encoding":{"x":{"field":"x","type":"quantitative","axis":null},"y":{"field":"y","type":"quantitative","axis":null},"text":{"field":"t"}}}
 ]}
], "spacing": 58, "bounds": "flush"},
{"vconcat": [
{"hconcat": [
 {"width": 539, "height": 197, "resolve": {"axis": {"x": "independent", "y": "independent"}}, "layer": [
  {"data":{"name":"pts"},"transform":[{"filter":"datum.p==3"}],"mark":{"type":"rule","color":"#555","strokeWidth":1,"clip":true},
   "encoding":{"x":{"field":"x","type":"quantitative","scale":{"domain":[-97,-96.5],"nice":false,"zero":false},"axis":{"orient":"bottom","values":[-97,-96.98,-96.96,-96.94,-96.92,-96.9,-96.88,-96.86,-96.84,-96.82,-96.8,-96.78,-96.76,-96.74,-96.72,-96.7,-96.68,-96.66,-96.64,-96.62,-96.6,-96.58,-96.56,-96.54,-96.52,-96.5],"grid":true,"gridOpacity":{"condition":{"test":"abs(datum.value*10-round(datum.value*10))<0.001","value":1},"value":0},"labels":false,"title":null}},
   "y":{"field":"lo","type":"quantitative","scale":{"domain":[0,250],"nice":false,"zero":false},"axis":{"orient":"left","values":[0,10,20,30,40,50,60,70,80,90,100,110,120,130,140,150,160,170,180,190,200,210,220,230,240,250],"grid":true,"gridOpacity":{"condition":{"test":"datum.value % 50 == 0","value":1},"value":0},"labelExpr":"datum.value % 50 == 0 ? datum.label : ''","labelPadding":17,"title":"H (W m⁻²)","titlePadding":8}},
   "y2":{"field":"hi"}}},
  {"data":{"name":"pts"},"transform":[{"filter":"datum.p==3"},{"fold":["lo","hi"],"as":["k","v"]}],"mark":{"type":"tick","orient":"horizontal","size":6,"thickness":1,"color":"#222","clip":true},"encoding":{"x":{"field":"x","type":"quantitative","axis":null},"y":{"field":"v","type":"quantitative","axis":null}}},
  {"data":{"name":"pts"},"transform":[{"filter":"datum.p==3"}],"mark":{"type":"line","strokeDash":[4,3],"strokeWidth":1.6,"color":"#000","interpolate":"monotone","clip":true},"encoding":{"x":{"field":"x","type":"quantitative","axis":null},"y":{"field":"ul","type":"quantitative","axis":null}}},
  {"data":{"name":"pts"},"transform":[{"filter":"datum.p==3"}],"mark":{"type":"line","strokeDash":[4,3],"strokeWidth":1.6,"color":"#000","interpolate":"monotone","clip":true},"encoding":{"x":{"field":"x","type":"quantitative","axis":null},"y":{"field":"ll","type":"quantitative","axis":null}}},
  {"data":{"name":"pts"},"transform":[{"filter":"datum.p==3"}],"mark":{"type":"line","strokeWidth":2.4,"color":"#000","clip":true},"encoding":{"x":{"field":"x","type":"quantitative","axis":null},"y":{"field":"h","type":"quantitative","axis":null}}},
  {"data":{"name":"pts"},"transform":[{"filter":"datum.p==3"}],"mark":{"type":"point","filled":true,"size":70,"color":"#000","opacity":1,"clip":true},"encoding":{"x":{"field":"x","type":"quantitative","axis":{"orient":"top","values":[-97,-96.98,-96.96,-96.94,-96.92,-96.9,-96.88,-96.86,-96.84,-96.82,-96.8,-96.78,-96.76,-96.74,-96.72,-96.7,-96.68,-96.66,-96.64,-96.62,-96.6,-96.58,-96.56,-96.54,-96.52,-96.5],"labels":false,"grid":false,"title":null}},"y":{"field":"h","type":"quantitative","axis":{"orient":"right","values":[0,10,20,30,40,50,60,70,80,90,100,110,120,130,140,150,160,170,180,190,200,210,220,230,240,250],"labels":false,"grid":false,"title":null}}}},
  {"data":{"name":"sig"},"transform":[{"filter":"datum.p==3"}],"mark":{"type":"rule","color":"#000","strokeWidth":2},"encoding":{"x":{"field":"x","type":"quantitative","axis":null},"y":{"field":"lo","type":"quantitative","axis":null},"y2":{"field":"hi"}}},
  {"data":{"name":"sig"},"transform":[{"filter":"datum.p==3"},{"fold":["lo","hi"],"as":["k","v"]}],"mark":{"type":"tick","orient":"horizontal","size":9,"thickness":2,"color":"#000"},"encoding":{"x":{"field":"x","type":"quantitative","axis":null},"y":{"field":"v","type":"quantitative","axis":null}}},
  {"data":{"name":"ann"},"transform":[{"filter":"datum.p==3 && datum.k=='sym'"}],"mark":{"type":"text","align":"left","baseline":"middle","fontSize":20,"font":"Liberation Serif"},"encoding":{"x":{"field":"x","type":"quantitative","axis":null},"y":{"field":"y","type":"quantitative","axis":null},"text":{"field":"t"}}},
  {"data":{"name":"ann"},"transform":[{"filter":"datum.p==3 && datum.k=='sub'"}],"mark":{"type":"text","align":"left","baseline":"middle","fontSize":10,"dy":8},"encoding":{"x":{"field":"x","type":"quantitative","axis":null},"y":{"field":"y","type":"quantitative","axis":null},"text":{"field":"t"}}},
  {"data":{"name":"ann"},"transform":[{"filter":"datum.p==3 && datum.k=='val'"}],"mark":{"type":"text","align":"left","baseline":"middle","fontSize":17},"encoding":{"x":{"field":"x","type":"quantitative","axis":null},"y":{"field":"y","type":"quantitative","axis":null},"text":{"field":"t"}}},
  {"data":{"name":"ann"},"transform":[{"filter":"datum.p==3 && datum.k=='title'"}],"mark":{"type":"text","align":"right","baseline":"middle","fontSize":24,"fontWeight":"bold"},"encoding":{"x":{"field":"x","type":"quantitative","axis":null},"y":{"field":"y","type":"quantitative","axis":null},"text":{"field":"t"}}}
 ]},
 {"width": 541, "height": 197, "resolve": {"axis": {"x": "independent", "y": "independent"}}, "layer": [
  {"data":{"name":"pts"},"transform":[{"filter":"datum.p==4"}],"mark":{"type":"rule","color":"#555","strokeWidth":1,"clip":true},
   "encoding":{"x":{"field":"x","type":"quantitative","scale":{"domain":[-97,-96.5],"nice":false,"zero":false},"axis":{"orient":"bottom","values":[-97,-96.98,-96.96,-96.94,-96.92,-96.9,-96.88,-96.86,-96.84,-96.82,-96.8,-96.78,-96.76,-96.74,-96.72,-96.7,-96.68,-96.66,-96.64,-96.62,-96.6,-96.58,-96.56,-96.54,-96.52,-96.5],"grid":true,"gridOpacity":{"condition":{"test":"abs(datum.value*10-round(datum.value*10))<0.001","value":1},"value":0},"labels":false,"title":null}},
   "y":{"field":"lo","type":"quantitative","scale":{"domain":[50,300],"nice":false,"zero":false},"axis":{"orient":"left","values":[50,60,70,80,90,100,110,120,130,140,150,160,170,180,190,200,210,220,230,240,250,260,270,280,290,300],"grid":true,"gridOpacity":{"condition":{"test":"datum.value % 50 == 0","value":1},"value":0},"labelExpr":"datum.value % 50 == 0 ? datum.label : ''","labelPadding":17,"title":null}},
   "y2":{"field":"hi"}}},
  {"data":{"name":"pts"},"transform":[{"filter":"datum.p==4"},{"fold":["lo","hi"],"as":["k","v"]}],"mark":{"type":"tick","orient":"horizontal","size":6,"thickness":1,"color":"#222","clip":true},"encoding":{"x":{"field":"x","type":"quantitative","axis":null},"y":{"field":"v","type":"quantitative","axis":null}}},
  {"data":{"name":"pts"},"transform":[{"filter":"datum.p==4"}],"mark":{"type":"line","strokeDash":[4,3],"strokeWidth":1.6,"color":"#000","interpolate":"monotone","clip":true},"encoding":{"x":{"field":"x","type":"quantitative","axis":null},"y":{"field":"ul","type":"quantitative","axis":null}}},
  {"data":{"name":"pts"},"transform":[{"filter":"datum.p==4"}],"mark":{"type":"line","strokeDash":[4,3],"strokeWidth":1.6,"color":"#000","interpolate":"monotone","clip":true},"encoding":{"x":{"field":"x","type":"quantitative","axis":null},"y":{"field":"ll","type":"quantitative","axis":null}}},
  {"data":{"name":"pts"},"transform":[{"filter":"datum.p==4"}],"mark":{"type":"line","strokeWidth":2.4,"color":"#000","clip":true},"encoding":{"x":{"field":"x","type":"quantitative","axis":null},"y":{"field":"h","type":"quantitative","axis":null}}},
  {"data":{"name":"pts"},"transform":[{"filter":"datum.p==4"}],"mark":{"type":"point","filled":true,"size":70,"color":"#000","opacity":1,"clip":true},"encoding":{"x":{"field":"x","type":"quantitative","axis":{"orient":"top","values":[-97,-96.98,-96.96,-96.94,-96.92,-96.9,-96.88,-96.86,-96.84,-96.82,-96.8,-96.78,-96.76,-96.74,-96.72,-96.7,-96.68,-96.66,-96.64,-96.62,-96.6,-96.58,-96.56,-96.54,-96.52,-96.5],"labels":false,"grid":false,"title":null}},"y":{"field":"h","type":"quantitative","axis":{"orient":"right","values":[50,60,70,80,90,100,110,120,130,140,150,160,170,180,190,200,210,220,230,240,250,260,270,280,290,300],"labels":false,"grid":false,"title":null}}}},
  {"data":{"name":"sig"},"transform":[{"filter":"datum.p==4"}],"mark":{"type":"rule","color":"#000","strokeWidth":2},"encoding":{"x":{"field":"x","type":"quantitative","axis":null},"y":{"field":"lo","type":"quantitative","axis":null},"y2":{"field":"hi"}}},
  {"data":{"name":"sig"},"transform":[{"filter":"datum.p==4"},{"fold":["lo","hi"],"as":["k","v"]}],"mark":{"type":"tick","orient":"horizontal","size":9,"thickness":2,"color":"#000"},"encoding":{"x":{"field":"x","type":"quantitative","axis":null},"y":{"field":"v","type":"quantitative","axis":null}}},
  {"data":{"name":"ann"},"transform":[{"filter":"datum.p==4 && datum.k=='sym'"}],"mark":{"type":"text","align":"left","baseline":"middle","fontSize":20,"font":"Liberation Serif"},"encoding":{"x":{"field":"x","type":"quantitative","axis":null},"y":{"field":"y","type":"quantitative","axis":null},"text":{"field":"t"}}},
  {"data":{"name":"ann"},"transform":[{"filter":"datum.p==4 && datum.k=='sub'"}],"mark":{"type":"text","align":"left","baseline":"middle","fontSize":10,"dy":8},"encoding":{"x":{"field":"x","type":"quantitative","axis":null},"y":{"field":"y","type":"quantitative","axis":null},"text":{"field":"t"}}},
  {"data":{"name":"ann"},"transform":[{"filter":"datum.p==4 && datum.k=='val'"}],"mark":{"type":"text","align":"left","baseline":"middle","fontSize":17},"encoding":{"x":{"field":"x","type":"quantitative","axis":null},"y":{"field":"y","type":"quantitative","axis":null},"text":{"field":"t"}}},
  {"data":{"name":"ann"},"transform":[{"filter":"datum.p==4 && datum.k=='title'"}],"mark":{"type":"text","align":"right","baseline":"middle","fontSize":24,"fontWeight":"bold"},"encoding":{"x":{"field":"x","type":"quantitative","axis":null},"y":{"field":"y","type":"quantitative","axis":null},"text":{"field":"t"}}}
 ]}
], "spacing": 58, "bounds": "flush"},
{"hconcat": [
 {"width": 539, "height": 197, "resolve": {"axis": {"x": "independent", "y": "independent"}}, "layer": [
  {"data":{"name":"pts"},"transform":[{"filter":"datum.p==5"}],"mark":{"type":"rule","color":"#555","strokeWidth":1,"clip":true},
   "encoding":{"x":{"field":"x","type":"quantitative","scale":{"domain":[-97,-96.5],"nice":false,"zero":false},"axis":{"orient":"bottom","values":[-97,-96.98,-96.96,-96.94,-96.92,-96.9,-96.88,-96.86,-96.84,-96.82,-96.8,-96.78,-96.76,-96.74,-96.72,-96.7,-96.68,-96.66,-96.64,-96.62,-96.6,-96.58,-96.56,-96.54,-96.52,-96.5],"grid":true,"gridOpacity":{"condition":{"test":"abs(datum.value*10-round(datum.value*10))<0.001","value":1},"value":0},"labelExpr":"abs(datum.value*10-round(datum.value*10))<0.001 ? ''+round(datum.value*10)/10 : ''","labelPadding":9,"title":"Longitude","titleFontSize":24,"titlePadding":0}},
   "y":{"field":"lo","type":"quantitative","scale":{"domain":[0,250],"nice":false,"zero":false},"axis":{"orient":"left","values":[0,10,20,30,40,50,60,70,80,90,100,110,120,130,140,150,160,170,180,190,200,210,220,230,240,250],"grid":true,"gridOpacity":{"condition":{"test":"datum.value % 50 == 0","value":1},"value":0},"labelExpr":"datum.value % 50 == 0 ? datum.label : ''","labelPadding":17,"title":"H (W m⁻²)","titlePadding":8}},
   "y2":{"field":"hi"}}},
  {"data":{"name":"pts"},"transform":[{"filter":"datum.p==5"},{"fold":["lo","hi"],"as":["k","v"]}],"mark":{"type":"tick","orient":"horizontal","size":6,"thickness":1,"color":"#222","clip":true},"encoding":{"x":{"field":"x","type":"quantitative","axis":null},"y":{"field":"v","type":"quantitative","axis":null}}},
  {"data":{"name":"pts"},"transform":[{"filter":"datum.p==5"}],"mark":{"type":"line","strokeDash":[4,3],"strokeWidth":1.6,"color":"#000","interpolate":"monotone","clip":true},"encoding":{"x":{"field":"x","type":"quantitative","axis":null},"y":{"field":"ul","type":"quantitative","axis":null}}},
  {"data":{"name":"pts"},"transform":[{"filter":"datum.p==5"}],"mark":{"type":"line","strokeDash":[4,3],"strokeWidth":1.6,"color":"#000","interpolate":"monotone","clip":true},"encoding":{"x":{"field":"x","type":"quantitative","axis":null},"y":{"field":"ll","type":"quantitative","axis":null}}},
  {"data":{"name":"pts"},"transform":[{"filter":"datum.p==5"}],"mark":{"type":"line","strokeWidth":2.4,"color":"#000","clip":true},"encoding":{"x":{"field":"x","type":"quantitative","axis":null},"y":{"field":"h","type":"quantitative","axis":null}}},
  {"data":{"name":"pts"},"transform":[{"filter":"datum.p==5"}],"mark":{"type":"point","filled":true,"size":70,"color":"#000","opacity":1,"clip":true},"encoding":{"x":{"field":"x","type":"quantitative","axis":{"orient":"top","values":[-97,-96.98,-96.96,-96.94,-96.92,-96.9,-96.88,-96.86,-96.84,-96.82,-96.8,-96.78,-96.76,-96.74,-96.72,-96.7,-96.68,-96.66,-96.64,-96.62,-96.6,-96.58,-96.56,-96.54,-96.52,-96.5],"labels":false,"grid":false,"title":null}},"y":{"field":"h","type":"quantitative","axis":{"orient":"right","values":[0,10,20,30,40,50,60,70,80,90,100,110,120,130,140,150,160,170,180,190,200,210,220,230,240,250],"labels":false,"grid":false,"title":null}}}},
  {"data":{"name":"sig"},"transform":[{"filter":"datum.p==5"}],"mark":{"type":"rule","color":"#000","strokeWidth":2},"encoding":{"x":{"field":"x","type":"quantitative","axis":null},"y":{"field":"lo","type":"quantitative","axis":null},"y2":{"field":"hi"}}},
  {"data":{"name":"sig"},"transform":[{"filter":"datum.p==5"},{"fold":["lo","hi"],"as":["k","v"]}],"mark":{"type":"tick","orient":"horizontal","size":9,"thickness":2,"color":"#000"},"encoding":{"x":{"field":"x","type":"quantitative","axis":null},"y":{"field":"v","type":"quantitative","axis":null}}},
  {"data":{"name":"ann"},"transform":[{"filter":"datum.p==5 && datum.k=='sym'"}],"mark":{"type":"text","align":"left","baseline":"middle","fontSize":20,"font":"Liberation Serif"},"encoding":{"x":{"field":"x","type":"quantitative","axis":null},"y":{"field":"y","type":"quantitative","axis":null},"text":{"field":"t"}}},
  {"data":{"name":"ann"},"transform":[{"filter":"datum.p==5 && datum.k=='sub'"}],"mark":{"type":"text","align":"left","baseline":"middle","fontSize":10,"dy":8},"encoding":{"x":{"field":"x","type":"quantitative","axis":null},"y":{"field":"y","type":"quantitative","axis":null},"text":{"field":"t"}}},
  {"data":{"name":"ann"},"transform":[{"filter":"datum.p==5 && datum.k=='val'"}],"mark":{"type":"text","align":"left","baseline":"middle","fontSize":17},"encoding":{"x":{"field":"x","type":"quantitative","axis":null},"y":{"field":"y","type":"quantitative","axis":null},"text":{"field":"t"}}},
  {"data":{"name":"ann"},"transform":[{"filter":"datum.p==5 && datum.k=='title'"}],"mark":{"type":"text","align":"right","baseline":"middle","fontSize":24,"fontWeight":"bold"},"encoding":{"x":{"field":"x","type":"quantitative","axis":null},"y":{"field":"y","type":"quantitative","axis":null},"text":{"field":"t"}}}
 ]},
 {"width": 541, "height": 197, "resolve": {"axis": {"x": "independent", "y": "independent"}}, "layer": [
  {"data":{"name":"pts"},"transform":[{"filter":"datum.p==6"}],"mark":{"type":"rule","color":"#555","strokeWidth":1,"clip":true},
   "encoding":{"x":{"field":"x","type":"quantitative","scale":{"domain":[-97,-96.5],"nice":false,"zero":false},"axis":{"orient":"bottom","values":[-97,-96.98,-96.96,-96.94,-96.92,-96.9,-96.88,-96.86,-96.84,-96.82,-96.8,-96.78,-96.76,-96.74,-96.72,-96.7,-96.68,-96.66,-96.64,-96.62,-96.6,-96.58,-96.56,-96.54,-96.52,-96.5],"grid":true,"gridOpacity":{"condition":{"test":"abs(datum.value*10-round(datum.value*10))<0.001","value":1},"value":0},"labelExpr":"abs(datum.value*10-round(datum.value*10))<0.001 ? ''+round(datum.value*10)/10 : ''","labelPadding":9,"title":"Longitude","titleFontSize":24,"titlePadding":0}},
   "y":{"field":"lo","type":"quantitative","scale":{"domain":[50,300],"nice":false,"zero":false},"axis":{"orient":"left","values":[50,60,70,80,90,100,110,120,130,140,150,160,170,180,190,200,210,220,230,240,250,260,270,280,290,300],"grid":true,"gridOpacity":{"condition":{"test":"datum.value % 50 == 0","value":1},"value":0},"labelExpr":"datum.value % 50 == 0 ? datum.label : ''","labelPadding":17,"title":null}},
   "y2":{"field":"hi"}}},
  {"data":{"name":"pts"},"transform":[{"filter":"datum.p==6"},{"fold":["lo","hi"],"as":["k","v"]}],"mark":{"type":"tick","orient":"horizontal","size":6,"thickness":1,"color":"#222","clip":true},"encoding":{"x":{"field":"x","type":"quantitative","axis":null},"y":{"field":"v","type":"quantitative","axis":null}}},
  {"data":{"name":"pts"},"transform":[{"filter":"datum.p==6"}],"mark":{"type":"line","strokeDash":[4,3],"strokeWidth":1.6,"color":"#000","interpolate":"monotone","clip":true},"encoding":{"x":{"field":"x","type":"quantitative","axis":null},"y":{"field":"ul","type":"quantitative","axis":null}}},
  {"data":{"name":"pts"},"transform":[{"filter":"datum.p==6"}],"mark":{"type":"line","strokeDash":[4,3],"strokeWidth":1.6,"color":"#000","interpolate":"monotone","clip":true},"encoding":{"x":{"field":"x","type":"quantitative","axis":null},"y":{"field":"ll","type":"quantitative","axis":null}}},
  {"data":{"name":"pts"},"transform":[{"filter":"datum.p==6"}],"mark":{"type":"line","strokeWidth":2.4,"color":"#000","clip":true},"encoding":{"x":{"field":"x","type":"quantitative","axis":null},"y":{"field":"h","type":"quantitative","axis":null}}},
  {"data":{"name":"pts"},"transform":[{"filter":"datum.p==6"}],"mark":{"type":"point","filled":true,"size":70,"color":"#000","opacity":1,"clip":true},"encoding":{"x":{"field":"x","type":"quantitative","axis":{"orient":"top","values":[-97,-96.98,-96.96,-96.94,-96.92,-96.9,-96.88,-96.86,-96.84,-96.82,-96.8,-96.78,-96.76,-96.74,-96.72,-96.7,-96.68,-96.66,-96.64,-96.62,-96.6,-96.58,-96.56,-96.54,-96.52,-96.5],"labels":false,"grid":false,"title":null}},"y":{"field":"h","type":"quantitative","axis":{"orient":"right","values":[50,60,70,80,90,100,110,120,130,140,150,160,170,180,190,200,210,220,230,240,250,260,270,280,290,300],"labels":false,"grid":false,"title":null}}}},
  {"data":{"name":"sig"},"transform":[{"filter":"datum.p==6"}],"mark":{"type":"rule","color":"#000","strokeWidth":2},"encoding":{"x":{"field":"x","type":"quantitative","axis":null},"y":{"field":"lo","type":"quantitative","axis":null},"y2":{"field":"hi"}}},
  {"data":{"name":"sig"},"transform":[{"filter":"datum.p==6"},{"fold":["lo","hi"],"as":["k","v"]}],"mark":{"type":"tick","orient":"horizontal","size":9,"thickness":2,"color":"#000"},"encoding":{"x":{"field":"x","type":"quantitative","axis":null},"y":{"field":"v","type":"quantitative","axis":null}}},
  {"data":{"name":"ann"},"transform":[{"filter":"datum.p==6 && datum.k=='sym'"}],"mark":{"type":"text","align":"left","baseline":"middle","fontSize":20,"font":"Liberation Serif"},"encoding":{"x":{"field":"x","type":"quantitative","axis":null},"y":{"field":"y","type":"quantitative","axis":null},"text":{"field":"t"}}},
  {"data":{"name":"ann"},"transform":[{"filter":"datum.p==6 && datum.k=='sub'"}],"mark":{"type":"text","align":"left","baseline":"middle","fontSize":10,"dy":8},"encoding":{"x":{"field":"x","type":"quantitative","axis":null},"y":{"field":"y","type":"quantitative","axis":null},"text":{"field":"t"}}},
  {"data":{"name":"ann"},"transform":[{"filter":"datum.p==6 && datum.k=='val'"}],"mark":{"type":"text","align":"left","baseline":"middle","fontSize":17},"encoding":{"x":{"field":"x","type":"quantitative","axis":null},"y":{"field":"y","type":"quantitative","axis":null},"text":{"field":"t"}}},
  {"data":{"name":"ann"},"transform":[{"filter":"datum.p==6 && datum.k=='title'"}],"mark":{"type":"text","align":"right","baseline":"middle","fontSize":24,"fontWeight":"bold"},"encoding":{"x":{"field":"x","type":"quantitative","axis":null},"y":{"field":"y","type":"quantitative","axis":null},"text":{"field":"t"}}}
 ]}
], "spacing": 58, "bounds": "flush"}
], "spacing": 0}
]
}
